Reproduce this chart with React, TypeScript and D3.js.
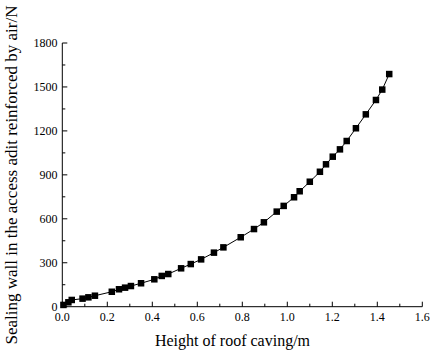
import React from "react";
import * as d3 from "d3";

const heights = [0.005, 0.027, 0.042, 0.09, 0.116, 0.145, 0.22, 0.252, 0.279, 0.305, 0.35, 0.409, 0.442, 0.471, 0.528, 0.571, 0.617, 0.674, 0.716, 0.793, 0.852, 0.896, 0.953, 0.984, 1.03, 1.055, 1.1, 1.145, 1.172, 1.202, 1.234, 1.264, 1.305, 1.349, 1.394, 1.422, 1.453];
const forces = [12, 30, 46, 55, 64, 75, 102, 119, 130, 141, 160, 187, 210, 223, 262, 291, 323, 369, 405, 474, 530, 576, 649, 688, 747, 788, 853, 921, 972, 1024, 1074, 1131, 1218, 1313, 1411, 1482, 1588];
const xTicks = [0, 0.2, 0.4, 0.6, 0.8, 1.0, 1.2, 1.4, 1.6];
const xMinor = [0.1, 0.3, 0.5, 0.7, 0.9, 1.1, 1.3, 1.5];
const yTicks = [0, 300, 600, 900, 1200, 1500, 1800];
const yMinor = [150, 450, 750, 1050, 1350, 1650];
const xTitle = "Height of roof caving/m";
const yTitle = "Sealing wall in the access adit reinforced by air/N";

export default function App() {
  const W = 430, H = 352;
  const x = d3.scaleLinear().domain([0, 1.6]).range([62.3, 422.3]);
  const y = d3.scaleLinear().domain([0, 1800]).range([306.7, 43]);
  const pts = heights.map((h, i) => [h, forces[i]] as [number, number]);
  const line = d3.line<[number, number]>().x(d => x(d[0])).y(d => y(d[1]));
  const font = "'Liberation Serif', 'Times New Roman', serif";
  const ms = 6.5;
  return (
    <svg width={W} height={H} style={{ position: "absolute", left: 0, top: 0, background: "#fff" }} fontFamily={font}>
      <rect width={W} height={H} fill="#fff" />
      <line x1={x(0)} x2={x(1.6)} y1={y(0)} y2={y(0)} stroke="#000" strokeWidth={1} />
      <line x1={x(0)} x2={x(0)} y1={y(0)} y2={y(1800)} stroke="#000" strokeWidth={1} />
      {xTicks.map(t => (
        <g key={"xt" + t}>
          <line x1={x(t)} x2={x(t)} y1={y(0)} y2={y(0) - 5} stroke="#000" />
          <text x={x(t)} y={321} fontSize={12} textAnchor="middle" fill="#000">{t.toFixed(1)}</text>
        </g>
      ))}
      {xMinor.map(t => (
        <line key={"xm" + t} x1={x(t)} x2={x(t)} y1={y(0)} y2={y(0) - 3} stroke="#000" />
      ))}
      {yTicks.map(t => (
        <g key={"yt" + t}>
          <line x1={x(0)} x2={x(0) + 5} y1={y(t)} y2={y(t)} stroke="#000" />
          <text x={57.5} y={y(t) + 4} fontSize={12} textAnchor="end" fill="#000">{t}</text>
        </g>
      ))}
      {yMinor.map(t => (
        <line key={"ym" + t} x1={x(0)} x2={x(0) + 3} y1={y(t)} y2={y(t)} stroke="#000" />
      ))}
      <path d={line(pts) || ""} fill="none" stroke="#000" strokeWidth={1} />
      {pts.map((p, i) => (
        <rect key={i} x={x(p[0]) - ms / 2} y={y(p[1]) - ms / 2} width={ms} height={ms} fill="#000" />
      ))}
      <text x={232.5} y={346} fontSize={16} textAnchor="middle" fill="#000">{xTitle}</text>
      <text transform={`translate(17,175) rotate(-90)`} fontSize={17} textAnchor="middle" fill="#000">{yTitle}</text>
    </svg>
  );
}
